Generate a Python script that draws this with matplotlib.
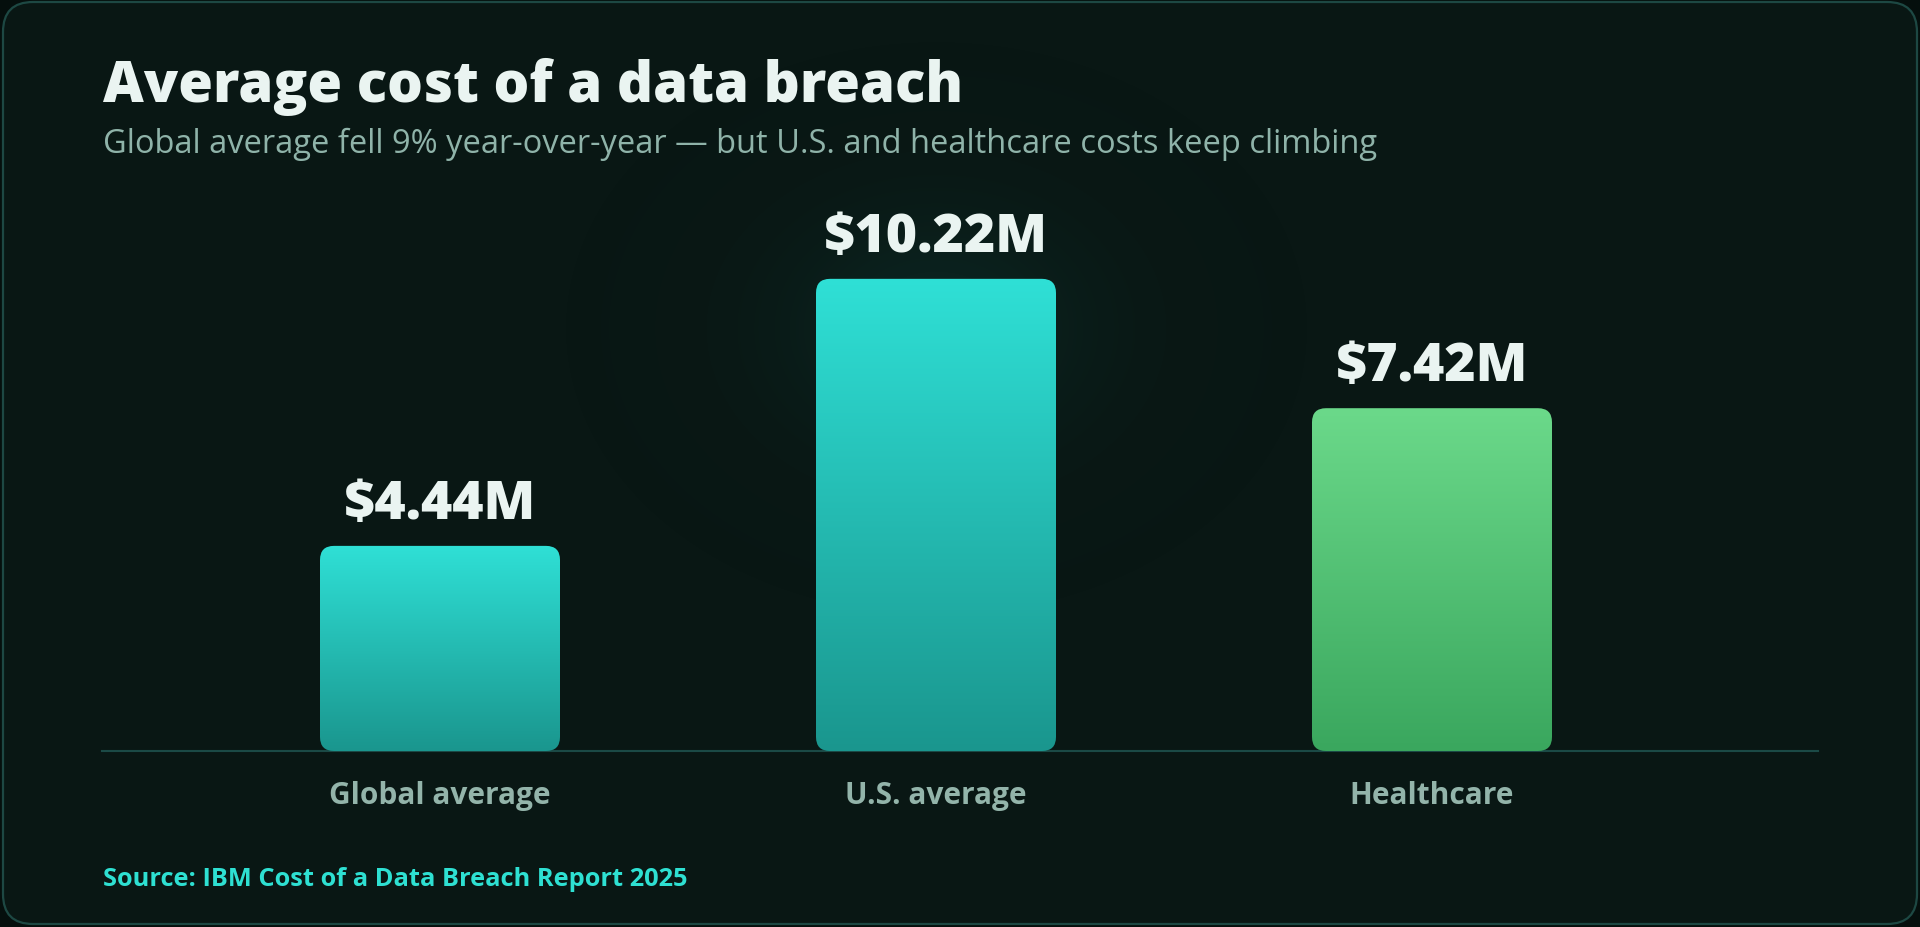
import numpy as np
import matplotlib
matplotlib.use("Agg")
import matplotlib.pyplot as plt
from matplotlib.patches import FancyBboxPatch
from matplotlib.colors import LinearSegmentedColormap

# data
categories = ["Global average", "U.S. average", "Healthcare"]
values = [4.44, 10.22, 7.42]
value_labels = ["$4.44M", "$10.22M", "$7.42M"]
top_colors = ["#2fe0d6", "#2fe0d6", "#6bd98a"]
bottom_colors = ["#1a968e", "#1a968e", "#3aa75e"]

title = "Average cost of a data breach"
subtitle = "Global average fell 9% year-over-year \u2014 but U.S. and healthcare costs keep climbing"
source = "Source: IBM Cost of a Data Breach Report 2025"

W, H = 1920, 928
bg = "#091714"
fam = ["Open Sans", "DejaVu Sans"]

fig = plt.figure(figsize=(W / 100, H / 100), dpi=100)
fig.patch.set_facecolor("#050f0d")

# backdrop with rounded frame
back = fig.add_axes([0, 0, 1, 1])
back.set_xlim(0, W)
back.set_ylim(0, H)
back.axis("off")
frame = FancyBboxPatch((3, 3), W - 6, H - 6, boxstyle="round,pad=0,rounding_size=30",
                       facecolor=bg, edgecolor="#1d4843", linewidth=1.6, zorder=0)
back.add_patch(frame)
# faint glow behind the tallest bar
yy, xx = np.mgrid[0:H, 0:W]
glow = np.exp(-(((xx - 936) / 220.0) ** 2 + ((yy - (H - 330)) / 170.0) ** 2))
gcmap = LinearSegmentedColormap.from_list("g", [(0, 0, 0, 0), (0.18, 0.85, 0.8, 0.07)])
im = back.imshow(glow, extent=[0, W, 0, H], origin="lower", cmap=gcmap, zorder=1, aspect="auto")
im.set_clip_path(frame)

# main axes, 46.2 px per unit, baseline at 752 px from top
px_per_unit = 46.2
x_px = 496.0
ax_left, ax_right = 102, 1818
base_y = H - 752
ylim_top = 12.0
ax = fig.add_axes([ax_left / W, base_y / H, (ax_right - ax_left) / W, px_per_unit * ylim_top / H])
ax.set_facecolor("none")
x = np.arange(len(categories))
xmin = (ax_left - 440) / x_px
xmax = xmin + (ax_right - ax_left) / x_px
ax.set_xlim(xmin, xmax)
ax.set_ylim(0, ylim_top)
for s in ["top", "right", "left"]:
    ax.spines[s].set_visible(False)
ax.spines["bottom"].set_color("#1b4a46")
ax.spines["bottom"].set_linewidth(1.5)
ax.spines["bottom"].set_zorder(0)
ax.set_yticks([])
ax.set_xticks(x)
ax.set_xticklabels(categories, family=fam, fontsize=21.5, fontweight="bold", color="#93b4aa")
ax.tick_params(axis="x", length=0, pad=21)

bw = 240 / x_px
r = 14 / x_px
aspect = x_px / px_per_unit
for i, v in enumerate(values):
    patch = FancyBboxPatch((x[i] - bw / 2, 0), bw, v,
                           boxstyle=f"round,pad=0,rounding_size={r}",
                           mutation_aspect=aspect, facecolor="none", edgecolor="none")
    ax.add_patch(patch)
    cmap = LinearSegmentedColormap.from_list("b%d" % i, [bottom_colors[i], top_colors[i]])
    grad = np.linspace(0, 1, 256).reshape(-1, 1)
    img = ax.imshow(grad, extent=[x[i] - bw / 2, x[i] + bw / 2, 0, v], origin="lower",
                    cmap=cmap, aspect="auto", zorder=2)
    img.set_clip_path(patch)
    ax.annotate(value_labels[i], (x[i], v), xytext=(0, 20), textcoords="offset points",
                ha="center", va="baseline", family=fam, fontsize=38.5, fontweight="heavy",
                color="#eaf4f1")
ax.set_xlim(xmin, xmax)
ax.set_ylim(0, ylim_top)

fig.text(103 / W, 1 - 102 / H, title, family=fam, fontsize=40.5, fontweight="heavy",
         color="#eaf4f1", ha="left", va="baseline")
fig.text(103 / W, 1 - 153 / H, subtitle, family=fam, fontsize=23.5, color="#8fb3a9",
         ha="left", va="baseline")
fig.text(103 / W, 1 - 886 / H, source, family=fam, fontsize=18.3, fontweight="bold",
         color="#2ee0d2", ha="left", va="baseline")

fig.savefig("out.png", dpi=100, facecolor=fig.get_facecolor())
